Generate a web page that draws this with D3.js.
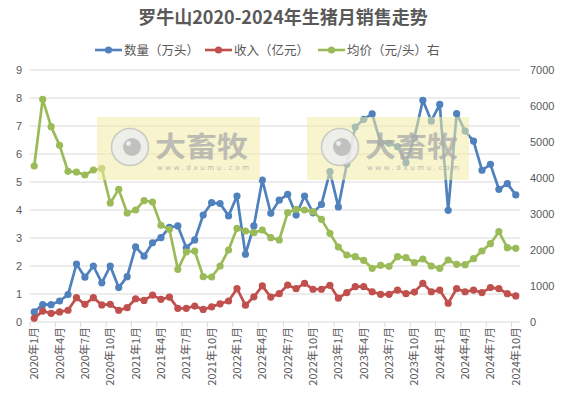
<!DOCTYPE html>
<html><head><meta charset="utf-8">
<script src="https://cdn.jsdelivr.net/npm/d3@7"></script>
<style>body{margin:0;background:#fff;}svg{display:block;font-family:"Noto Sans CJK SC","Noto Sans",sans-serif;}</style>
</head><body>
<svg id="c" width="566" height="403"></svg>
<script>
const months = [];
for (let y = 2020; y <= 2024; y++) for (let m = 1; m <= 12; m++) { if (y === 2024 && m > 10) break; months.push(y + "年" + m + "月"); }
const quantity = [0.36,0.62,0.62,0.75,0.98,2.07,1.6,2.0,1.4,2.0,1.23,1.62,2.68,2.35,2.83,3.01,3.38,3.43,2.65,2.93,3.82,4.26,4.23,3.79,4.5,2.42,3.43,5.07,3.88,4.35,4.56,3.82,4.5,3.9,4.2,5.37,4.11,5.63,6.96,7.24,7.43,6.4,6.38,6.26,5.69,6.58,7.92,7.18,7.77,3.99,7.44,6.82,6.46,5.42,5.63,4.74,4.94,4.54];
const revenue = [0.13,0.39,0.31,0.36,0.42,0.87,0.63,0.87,0.61,0.63,0.42,0.51,0.83,0.77,0.96,0.81,0.89,0.49,0.49,0.57,0.45,0.54,0.65,0.75,1.19,0.6,0.9,1.29,0.89,1.01,1.32,1.19,1.38,1.17,1.17,1.31,0.85,1.05,1.26,1.26,1.08,0.99,0.99,1.14,1.01,1.07,1.38,1.08,1.14,0.67,1.19,1.08,1.14,1.05,1.23,1.19,1.01,0.93];
const price = [4333,6185,5426,4907,4185,4167,4083,4222,4259,3306,3685,3028,3111,3370,3333,2685,2574,1463,1944,1972,1259,1250,1556,2000,2602,2528,2481,2556,2343,2278,3037,3130,3111,3065,2852,2463,2083,1861,1815,1713,1491,1574,1546,1815,1787,1648,1750,1556,1491,1722,1602,1593,1759,1972,2176,2509,2065,2046];
const leftTicks = [0,1,2,3,4,5,6,7,8,9];
const rightTicks = [0,1000,2000,3000,4000,5000,6000,7000];
const seriesNames = ["数量（万头）","收入（亿元）","均价（元/头）右"];
const colors = ["#4F81BD","#C0504D","#9BBB59"];

const svg = d3.select("#c");
const L = 30, R = 520, T = 70, B = 322;
const x = d3.scaleBand().domain(months).range([L, R]);
const yL = d3.scaleLinear().domain([0, 9]).range([B, T]);
const yR = d3.scaleLinear().domain([0, 7000]).range([B, T]);
const cx = d => x(d) + x.bandwidth() / 2;

svg.append("text").attr("x", 283).attr("y", 24).attr("text-anchor", "middle")
  .attr("font-size", 18).attr("font-weight", "bold").attr("fill", "#595959").text("罗牛山2020-2024年生猪月销售走势");

// gridlines
svg.append("g").selectAll("line").data(leftTicks.slice(1)).join("line")
  .attr("x1", L).attr("x2", R).attr("y1", d => yL(d)).attr("y2", d => yL(d))
  .attr("stroke", "#d9d9d9").attr("stroke-width", 1);

// left axis
const gl = svg.append("g").attr("transform", `translate(${L},0)`)
  .call(d3.axisLeft(yL).tickValues(leftTicks).tickSize(0).tickPadding(8));
gl.select(".domain").remove();
gl.selectAll("text").attr("font-size", 11).attr("fill", "#595959").attr("font-family", "Liberation Sans, sans-serif");

const gr = svg.append("g").attr("transform", `translate(${R},0)`)
  .call(d3.axisRight(yR).tickValues(rightTicks).tickFormat(d3.format("d")).tickSize(0).tickPadding(10));
gr.select(".domain").remove();
gr.selectAll("text").attr("font-size", 11).attr("fill", "#595959").attr("font-family", "Liberation Sans, sans-serif");

// x axis
svg.append("line").attr("x1", L).attr("x2", R).attr("y1", B).attr("y2", B).attr("stroke", "#d9d9d9");
const tickIdx = months.map((m, i) => i).filter(i => i % 3 === 0);
svg.append("g").selectAll("line").data(tickIdx).join("line")
  .attr("x1", i => x(months[i])).attr("x2", i => x(months[i]))
  .attr("y1", B).attr("y2", B + 5).attr("stroke", "#d9d9d9");
svg.append("g").selectAll("text").data(tickIdx).join("text")
  .attr("transform", i => `translate(${cx(months[i]) + 4},${B + 5}) rotate(-90)`)
  .attr("text-anchor", "end").attr("font-size", 11).attr("fill", "#595959")
  .text(i => months[i]);

// series
const data = [
  { v: quantity, y: yL },
  { v: revenue, y: yL },
  { v: price, y: yR }
];
data.forEach((s, k) => {
  const line = d3.line().x((d, i) => cx(months[i])).y(d => s.y(d));
  svg.append("path").datum(s.v).attr("d", line).attr("fill", "none")
    .attr("stroke", colors[k]).attr("stroke-width", 2.7).attr("stroke-linejoin", "round");
  svg.append("g").selectAll("circle").data(s.v).join("circle")
    .attr("cx", (d, i) => cx(months[i])).attr("cy", d => s.y(d)).attr("r", 3.6).attr("fill", colors[k]);
});

// watermarks
function watermark(x0, x1) {
  const g = svg.append("g");
  g.append("rect").attr("x", x0).attr("y", 117).attr("width", x1 - x0).attr("height", 63)
    .attr("fill", "#f3eda6").attr("opacity", 0.55);
  g.append("circle").attr("cx", x0 + 33).attr("cy", 147).attr("r", 18.5)
    .attr("fill", "#eeeeee").attr("stroke", "#c4c4c4").attr("stroke-width", 1.6).attr("opacity", 0.85);
  g.append("circle").attr("cx", x0 + 35).attr("cy", 147).attr("r", 9)
    .attr("fill", "#b8b8b8").attr("opacity", 0.85);
  g.append("circle").attr("cx", x0 + 31.5).attr("cy", 143.5).attr("r", 2.4).attr("fill", "#eee");
  g.append("text").attr("x", x0 + 58).attr("y", 157).attr("font-size", 28).attr("font-weight", "bold")
    .attr("textLength", 93).attr("lengthAdjust", "spacingAndGlyphs")
    .attr("fill", "#aaaaaa").attr("opacity", 0.75).text("大畜牧");
  g.append("text").attr("x", x0 + 60).attr("y", 170).attr("font-size", 7)
    .attr("textLength", 92).attr("lengthAdjust", "spacing")
    .attr("fill", "#aaaaaa").attr("opacity", 0.8).attr("font-family", "DejaVu Sans, sans-serif").text("www.dxumu.com");
}
watermark(97, 260);
watermark(307, 469);

// legend
const legX = [95, 205, 318];
seriesNames.forEach((n, k) => {
  const g = svg.append("g").attr("transform", `translate(${legX[k]},50)`);
  g.append("line").attr("x1", 0).attr("x2", 27).attr("stroke", colors[k]).attr("stroke-width", 2.6);
  g.append("circle").attr("cx", 13.5).attr("r", 3.6).attr("fill", colors[k]);
  g.append("text").attr("x", 29).attr("y", 4.5).attr("font-size", 12.5).attr("fill", "#595959").text(n);
});
</script>
</body></html>
